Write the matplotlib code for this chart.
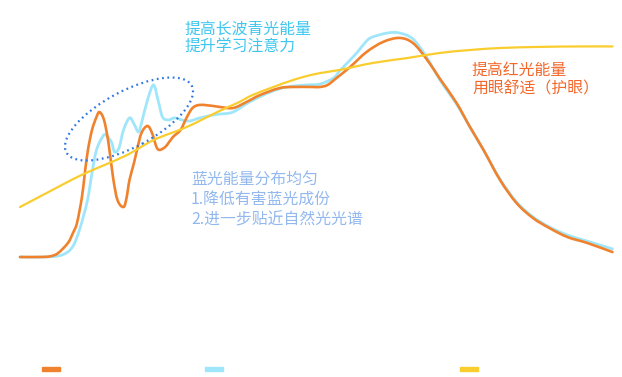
import matplotlib
matplotlib.use("Agg")
import numpy as np
import matplotlib.pyplot as plt
from matplotlib.patches import Ellipse, Rectangle, PathPatch
from matplotlib.path import Path

plt.rcParams['font.family'] = ['Noto Sans CJK SC', 'DejaVu Sans']

# wavelength (nm) / relative intensity (0-100)
orange_wl = [380, 393, 400, 405.3, 412, 415.3, 418, 421.3, 423.3, 425.3, 428, 431, 433,
             436, 439, 442, 445, 449, 451, 453, 456, 458, 461, 465, 468, 471, 473,
             476, 478, 482, 487, 491, 495, 500, 509, 513, 522, 531, 540, 553, 562,
             575, 580, 585, 591, 600, 611, 622, 633, 642, 651, 660, 671, 680, 689,
             700, 711, 722, 733, 745, 758, 775]
orange_val = [0, 0, 0.3, 1.7, 6.3, 10.7, 15.2, 26.8, 37.9, 47.8, 56.7, 62.5, 64.7,
              61.2, 50.9, 35.7, 25.4, 22.3, 26.3, 34.4, 42.0, 47.8, 55.4, 58.5, 55.4,
              49.1, 47.8, 48.7, 50.0, 53.6, 56.7, 62.1, 66.5, 67.9, 67.4, 67.0, 66.5,
              69.2, 72.3, 75.4, 75.9, 75.9, 75.9, 76.8, 79.9, 84.8, 91.5, 96.0, 97.8,
              95.5, 88.4, 79.5, 68.8, 58.0, 47.8, 34.4, 24.1, 17.4, 12.9, 8.9, 6.3, 2.2]

blue_wl = [380, 397, 408, 415, 420, 425, 428, 431, 435, 437, 441, 443, 446, 449, 453,
           456, 459, 461, 465, 469, 472, 475, 479, 483, 488, 493, 500, 509, 513, 522,
           533, 547, 558, 571, 580, 589, 593, 600, 605, 611, 615, 625, 633, 642, 651,
           660, 671, 680, 689, 700, 711, 722, 733, 745, 758, 775]
blue_val = [0, 0, 0.9, 4.5, 12.9, 25.4, 37.5, 47.8, 53.6, 54.5, 51.3, 46.9, 48.7, 56.7,
            62.1, 59.4, 55.8, 59.8, 70.1, 76.8, 70.1, 62.5, 61.2, 62.1, 61.2, 60.7,
            62.1, 63.4, 63.8, 64.7, 69.2, 73.7, 75.9, 76.8, 77.2, 79.9, 83.0, 87.9,
            91.5, 96.4, 98.2, 100, 100, 97.3, 89.3, 79.0, 68.3, 58.0, 47.8, 34.8, 24.6,
            17.9, 13.4, 9.8, 7.1, 3.6]

yellow_wl = [380, 399, 421, 450, 469, 491, 513, 525, 535, 547, 558, 569, 580, 593, 615,
             638, 660, 680, 700, 727, 753, 775]
yellow_val = [22.3, 29.0, 36.6, 45.1, 52.2, 58.0, 65.2, 68.8, 72.3, 75.4, 78.1, 80.4,
              82.1, 83.5, 86.6, 88.8, 91.1, 92.4, 93.3, 93.8, 94.0, 94.0]

c_orange = '#F0822D'
c_blue = '#9FE6FA'
c_yellow = '#F9CD2E'


def smooth_path(xs, ys):
    # bezier segments through the points (catmull-rom style handles)
    p = np.column_stack([xs, ys]).astype(float)
    n = len(p)
    verts = [p[0]]
    codes = [Path.MOVETO]
    for i in range(n - 1):
        p0 = p[i - 1] if i > 0 else p[i]
        p3 = p[i + 2] if i + 2 < n else p[i + 1]
        c1 = p[i] + (p[i + 1] - p0) / 6.0
        c2 = p[i + 1] - (p3 - p[i]) / 6.0
        verts += [c1, c2, p[i + 1]]
        codes += [Path.CURVE4] * 3
    return Path(verts, codes)


fig = plt.figure(figsize=(6.22, 3.77), dpi=100)
ax = fig.add_axes([0, 0, 1, 1])
ax.axis('off')
ax.set_xlim(366.67, 781.33)
ax.set_ylim(-53.57, 114.73)

for xs, ys, col, lw, z in [(blue_wl, blue_val, c_blue, 2.0, 2),
                           (orange_wl, orange_val, c_orange, 1.9, 3),
                           (yellow_wl, yellow_val, c_yellow, 1.6, 4)]:
    ax.add_patch(PathPatch(smooth_path(xs, ys), fill=False, edgecolor=col, lw=lw,
                           joinstyle='round', capstyle='round', zorder=z))

# dotted ellipse around the blue region (pixel units from bottom-left)
px = fig.dpi_scale_trans.frozen().scale(1 / 100.0)
ell = Ellipse((129, 377 - 119), 142, 56, angle=28, fill=False, edgecolor='#2F78E4',
              lw=1.6, ls=(0, (0.8, 1.6)), transform=px, zorder=5)
ax.add_patch(ell)


def label(x, y, s, color):
    fig.text(x / 622, 1 - y / 377, s, color=color, fontsize=11.4, va='center', ha='left')


label(185, 29.5, '提高长波青光能量', '#3EC6EE')
label(185, 47, '提升学习注意力', '#3EC6EE')
label(191, 179, '蓝光能量分布均匀', '#92B8EE')
label(191, 199.5, '1.降低有害蓝光成份', '#92B8EE')
label(191, 219.5, '2.进一步贴近自然光光谱', '#92B8EE')
label(472, 70, '提高红光能量', '#F2672A')
label(472, 89, '用眼舒适（护眼）', '#F2672A')

# legend swatches
for x0, col in [(42, c_orange), (205, c_blue), (460, c_yellow)]:
    fig.patches.append(Rectangle((x0 / 622, 1 - 371 / 377), 18 / 622, 4 / 377,
                                 transform=fig.transFigure, color=col, figure=fig))

fig.savefig('out.png', dpi=100)
